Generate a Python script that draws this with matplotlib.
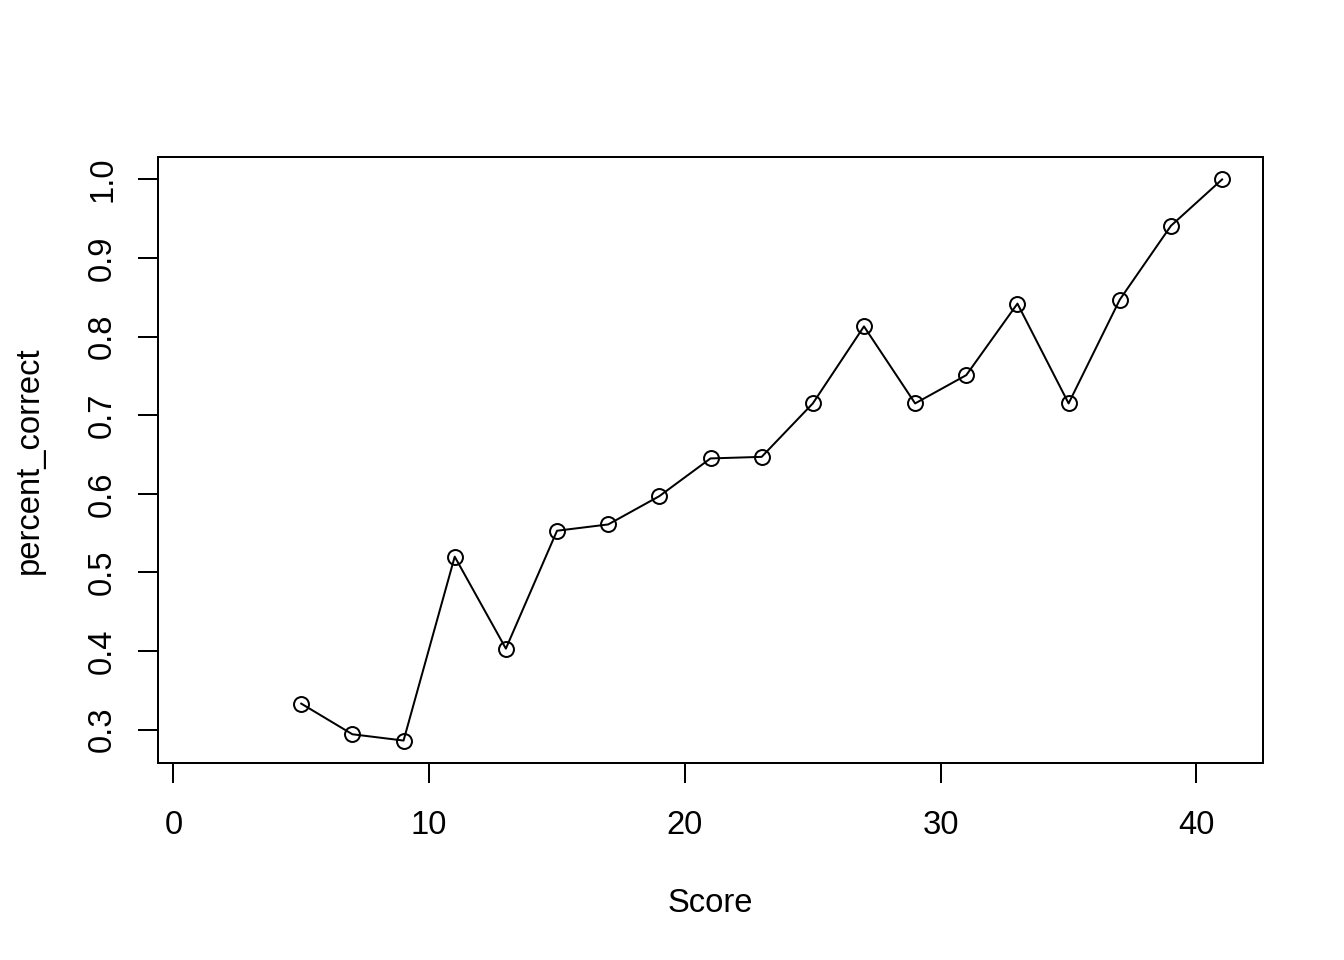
import matplotlib
matplotlib.use("Agg")
import matplotlib.pyplot as plt

score = [5, 7, 9, 11, 13, 15, 17, 19, 21, 23, 25, 27, 29, 31, 33, 35, 37, 39, 41]
percent_correct = [0.333, 0.294, 0.286, 0.520, 0.403, 0.553, 0.561, 0.597, 0.645,
                   0.647, 0.715, 0.813, 0.715, 0.751, 0.842, 0.715, 0.847, 0.941, 1.0]
x_ticks = [0, 10, 20, 30, 40]
y_ticks = [0.3, 0.4, 0.5, 0.6, 0.7, 0.8, 0.9, 1.0]

plt.rcParams['font.family'] = ['Liberation Sans', 'DejaVu Sans']

fig = plt.figure(figsize=(7, 5), dpi=192)
W, H = 1344, 960
ax = fig.add_axes([158 / W, 1 - 763 / H, (1263 - 158) / W, (763 - 157) / H])

ax.plot(score, percent_correct, color='black', linewidth=0.75, marker='o',
        markersize=5.6, markerfacecolor='none', markeredgecolor='black',
        markeredgewidth=0.75)

ax.set_xlim(1 - 0.04 * 40, 41 + 0.04 * 40)
ymin, ymax = min(percent_correct), max(percent_correct)
r = ymax - ymin
ax.set_ylim(ymin - 0.04 * r, ymax + 0.04 * r)

ax.set_xticks(x_ticks)
ax.set_xticklabels([str(t) for t in x_ticks])
ax.set_yticks(y_ticks)
ax.set_yticklabels([f"{t:.1f}" for t in y_ticks], rotation=90, va='center')

for s in ax.spines.values():
    s.set_linewidth(0.75)
ax.tick_params(axis='both', direction='out', length=7.5, width=0.75,
               labelsize=12.3, color='black')
ax.tick_params(axis='x', pad=10)
ax.tick_params(axis='y', pad=7.5)

ax.set_xlabel('Score', fontsize=12.3)
ax.xaxis.set_label_coords(((710) - 158) / (1263 - 158), (763 - 903) / (763 - 157))
ax.xaxis.label.set_verticalalignment('center')
ax.set_ylabel('percent_correct', fontsize=12.3)
ax.yaxis.set_label_coords((29 - 158) / (1263 - 158), 0.5)
ax.yaxis.label.set_verticalalignment('center')

fig.savefig('out.png', dpi=192)
